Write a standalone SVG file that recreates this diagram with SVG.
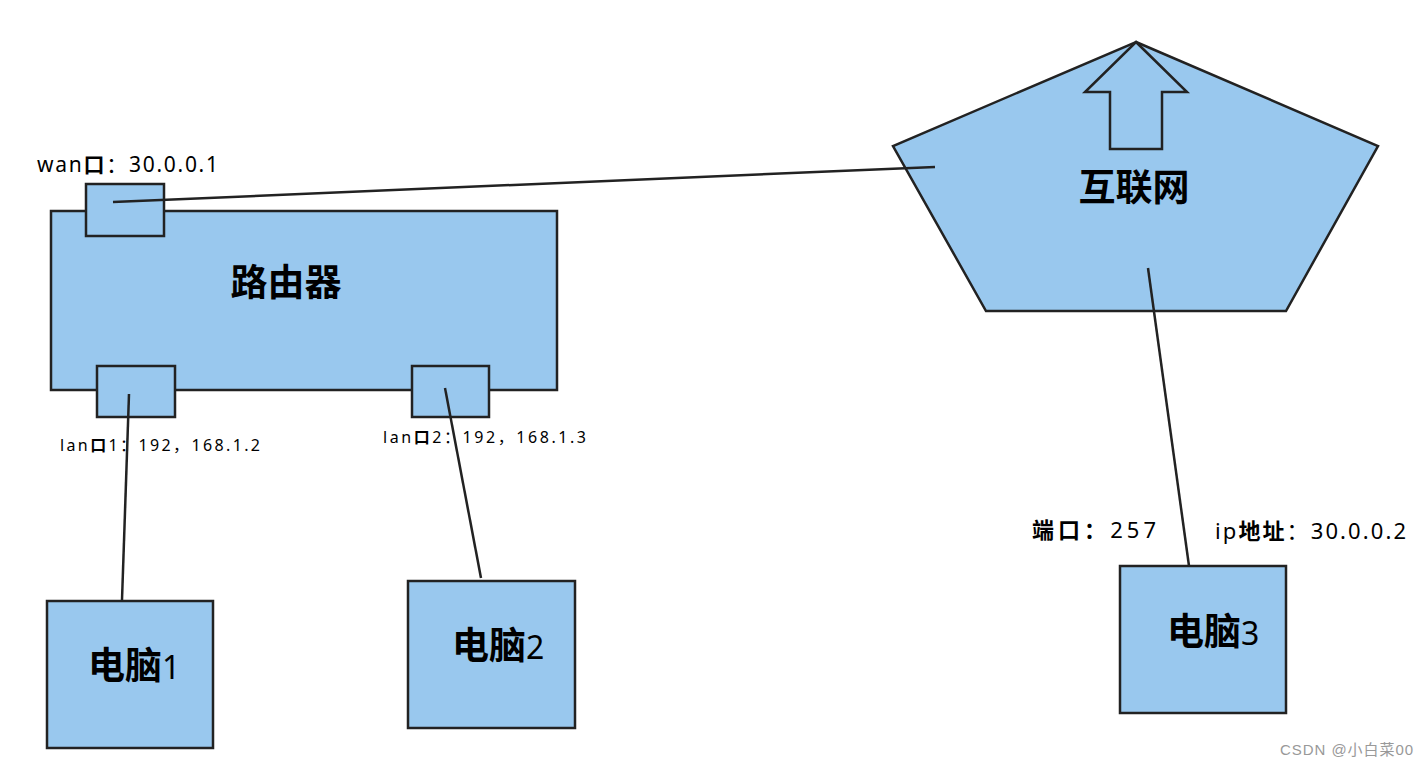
<svg xmlns="http://www.w3.org/2000/svg" width="1428" height="767" viewBox="0 0 1428 767">
<style>
.box{fill:#99c8ee;stroke:#222;stroke-width:2.5}
.ln{stroke:#222;stroke-width:2.5;fill:none}
.t{font-family:"Noto Sans","Noto Sans CJK SC",sans-serif;fill:#000}
.b{font-weight:bold}
.big{font-size:37px;font-weight:bold}
</style>
<rect width="1428" height="767" fill="#fff"/>
<g id="router">
<rect class="box" x="51" y="211" width="506" height="179"/>
<text class="t big" x="286" y="296" text-anchor="middle">路由器</text>
</g>
<g id="wan-port">
<rect class="box" x="86" y="184" width="78" height="52"/>
<text class="t" x="37" y="172" font-size="21" textLength="181" lengthAdjust="spacing">wan<tspan class="b">口</tspan>：30.0.0.1</text>
</g>
<g id="lan1-port">
<rect class="box" x="97" y="366" width="78" height="51"/>
<text class="t" x="60" y="451" font-size="16" textLength="200" lengthAdjust="spacing">lan<tspan class="b">口</tspan>1：192，168.1.2</text>
</g>
<g id="lan2-port">
<rect class="box" x="412" y="366" width="77" height="51"/>
<text class="t" x="383" y="443" font-size="16" textLength="203" lengthAdjust="spacing">lan<tspan class="b">口</tspan>2：192，168.1.3</text>
</g>
<g id="internet">
<polygon class="box" points="1136,42 1378,146 1286,311 986,311 893,146"/>
<polygon class="box" points="1136,42 1187,92 1162,92 1162,149 1110,149 1110,92 1085,92"/>
<text class="t big" x="1134" y="201" text-anchor="middle">互联网</text>
</g>
<g id="pc1">
<rect class="box" x="47" y="601" width="166" height="147"/>
<text class="t" x="88" y="679"><tspan class="big">电脑</tspan><tspan font-size="32">1</tspan></text>
</g>
<g id="pc2">
<rect class="box" x="408" y="581" width="167" height="147"/>
<text class="t" x="452" y="659"><tspan class="big">电脑</tspan><tspan font-size="32">2</tspan></text>
</g>
<g id="pc3">
<rect class="box" x="1120" y="566" width="166" height="147"/>
<text class="t" x="1167" y="645"><tspan class="big">电脑</tspan><tspan font-size="32">3</tspan></text>
<text class="t" x="1032" y="538" font-size="22" textLength="124" lengthAdjust="spacing"><tspan class="b">端口：</tspan>257</text>
<text class="t" x="1215" y="539" font-size="22" textLength="191" lengthAdjust="spacing">ip<tspan class="b">地址</tspan>：30.0.0.2</text>
</g>
<g id="connectors">
<line class="ln" x1="113" y1="202" x2="935" y2="167"/>
<line class="ln" x1="129" y1="394" x2="122" y2="600"/>
<line class="ln" x1="445" y1="388" x2="481" y2="578"/>
<line class="ln" x1="1148" y1="268" x2="1189" y2="566"/>
</g>
<text x="1280" y="755" font-family="Liberation Sans,Noto Sans CJK SC,sans-serif" font-size="15" fill="#999" textLength="133" lengthAdjust="spacing">CSDN @小白菜00</text>
</svg>
